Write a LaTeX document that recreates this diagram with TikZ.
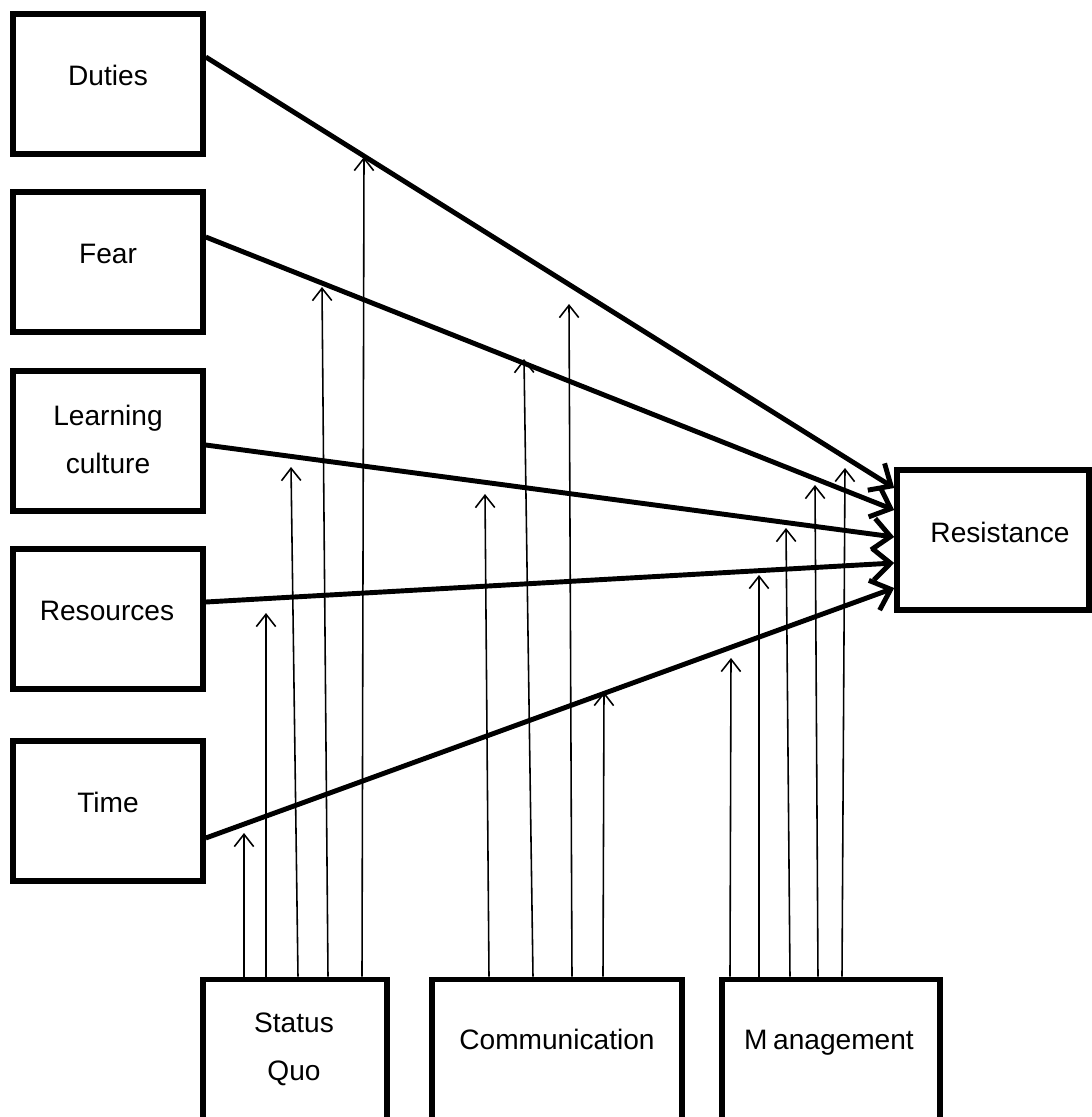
\documentclass[tikz,border=0pt]{standalone}
\usepackage{fontspec}
\setmainfont{Liberation Sans}
\usetikzlibrary{arrows.meta}

\begin{document}
\begin{tikzpicture}[x=0.02cm,y=-0.02cm,
  box/.style={draw,line width=3.2pt,minimum width=3.8cm,minimum height=2.8cm,inner sep=0pt},
  txt/.style={font=\fontsize{16}{19}\selectfont,anchor=base,inner sep=0pt},
  main/.style={line width=2.8pt,-{Straight Barb[length=10pt,width=18pt]}},
  mod/.style={line width=0.9pt,-{Straight Barb[length=7pt,width=11pt]}}]
\clip (0,0) rectangle (1092,1117);
% factors on the left
\node[box] (duties) at (108,84) {};
\node[box] (fear) at (108,262) {};
\node[box] (learn) at (108,441) {};
\node[box] (res) at (108,619) {};
\node[box] (time) at (108,811) {};
\node[box,minimum width=3.84cm] (resist) at (993,540) {};
% moderators, running off the bottom edge
\node[box,minimum width=3.68cm,minimum height=3.1cm] (sq) at (295,1057) {};
\node[box,minimum width=5cm,minimum height=3.1cm] (comm) at (557,1057) {};
\node[box,minimum width=4.36cm,minimum height=3.1cm] (mgmt) at (831,1057) {};

\node[txt] (dutiestxt) at (108,85) {Duties};
\node[txt] (feartxt) at (108,263) {Fear};
\node[txt] (learntxt) at (108,425) {Learning};
\node[txt] (culttxt) at (108,473) {culture};
\node[txt] (restxt) at (107,620) {Resources};
\node[txt] (timetxt) at (108,812) {Time};
\node[txt] (resisttxt) at (1000,542) {Resistance};
\node[txt] (sqtxt) at (294,1032) {Status};
\node[txt] (quotxt) at (294,1080) {Quo};
\node[txt] (commtxt) at (557,1049) {Communication};
\node[txt] (mgmttxt) at (829,1049) {M\hspace{0.2em}anagement};

\draw[main] (duties.east |- 0,57) -- (resist.west |- 0,488);
\draw[main] (fear.east |- 0,237) -- (resist.west |- 0,510);
\draw[main] (learn.east |- 0,445) -- (resist.west |- 0,537);
\draw[main] (res.east |- 0,602) -- (resist.west |- 0,563);
\draw[main] (time.east |- 0,838) -- (resist.west |- 0,588);

\foreach \a/\b/\c in {244/244/833,266/266/613,298/291/467,328/322/287,362/364/157}
  \draw[mod] (sq.north -| \a,0) -- (\b,\c);
\foreach \a/\b/\c in {489/485/494,533/524/359,572/569/304,603/604/692}
  \draw[mod] (comm.north -| \a,0) -- (\b,\c);
\foreach \a/\b/\c in {730/731/658,759/759/575,790/786/528,818/815/485,842/845/468}
  \draw[mod] (mgmt.north -| \a,0) -- (\b,\c);
\end{tikzpicture}
\end{document}
